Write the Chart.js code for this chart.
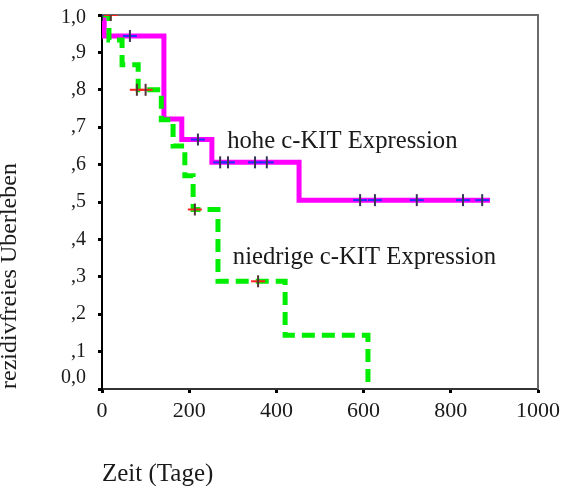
<!DOCTYPE html>
<html>
<head>
<meta charset="utf-8">
<script src="https://cdn.jsdelivr.net/npm/chart.js@4/dist/chart.umd.min.js"></script>
<style>
html, body { margin: 0; padding: 0; background: #ffffff; }
#wrap { width: 561px; height: 486px; }
</style>
</head>
<body>
<div id="wrap"><canvas id="c" width="561" height="486"></canvas></div>
<script>
// ---- data ----
const highTimes = [0, 5, 142, 183, 252, 452, 890];
const highSurv  = [1.0, 0.944, 0.722, 0.667, 0.606, 0.505, 0.505];
const lowTimes  = [0, 16, 46, 83, 136, 163, 190, 209, 266, 420, 610];
const lowSurv   = [1.0, 0.933, 0.867, 0.8, 0.72, 0.65, 0.57, 0.48, 0.288, 0.144, 0.0];
const highCensorTimes = [0, 64, 220, 271, 289, 351, 378, 592, 626, 722, 828, 872];
const highCensorSurv  = [1.0, 0.944, 0.667, 0.606, 0.606, 0.606, 0.606, 0.505, 0.505, 0.505, 0.505, 0.505];
const lowCensorTimes  = [20, 80, 100, 213, 358];
const lowCensorSurv   = [1.0, 0.8, 0.8, 0.48, 0.288];
const xTickLabels = ['0', '200', '400', '600', '800', '1000'];
const yTickLabels = ['0,0', ',1', ',2', ',3', ',4', ',5', ',6', ',7', ',8', ',9', '1,0'];
const seriesNames = ['hohe c-KIT Expression', 'niedrige c-KIT Expression'];
const xTitle = 'Zeit (Tage)';
const yTitle = 'rezidivfreies Überleben';

const pts = (xs, ys) => xs.map((x, i) => ({ x: x, y: ys[i] }));
const FONT = "'Liberation Serif', 'Times New Roman', serif";
const Y_LABEL_PAD = 12;

const decor = {
  id: 'decor',
  beforeDatasetsDraw(chart) {
    const { ctx, chartArea: a } = chart;
    ctx.save();
    ctx.strokeStyle = '#6a6a6a';
    ctx.lineWidth = 2;
    ctx.beginPath();
    ctx.moveTo(a.left, a.top);
    ctx.lineTo(a.right, a.top);
    ctx.lineTo(a.right, a.bottom);
    ctx.stroke();
    ctx.restore();
  },
  afterDraw(chart) {
    const { ctx, scales } = chart;
    const xs = scales.x, ys = scales.y;
    ctx.save();
    ctx.fillStyle = '#1a1a1a';
    ctx.font = '20px ' + FONT;
    ctx.textAlign = 'right';
    ctx.textBaseline = 'middle';
    const lx = ys.right - 4 - Y_LABEL_PAD;
    // end labels of the y axis are nudged inward, as in the reference
    ctx.fillText(yTickLabels[0], lx, ys.getPixelForValue(0) - 11);
    ctx.fillText(yTickLabels[yTickLabels.length - 1], lx, ys.getPixelForValue(1) + 3);
    ctx.font = '24.7px ' + FONT;
    ctx.textAlign = 'left';
    ctx.textBaseline = 'alphabetic';
    ctx.fillText(seriesNames[0], xs.getPixelForValue(287), ys.getPixelForValue(0.644));
    ctx.fillText(seriesNames[1], xs.getPixelForValue(300), ys.getPixelForValue(0.334));
    ctx.restore();
  }
};

new Chart(document.getElementById('c'), {
  type: 'line',
  data: {
    datasets: [
      {
        label: seriesNames[0],
        data: pts(highTimes, highSurv),
        stepped: 'before',
        borderColor: '#ff00ff',
        borderWidth: 5,
        pointRadius: 0,
        fill: false,
        order: 5
      },
      {
        label: seriesNames[1],
        data: pts(lowTimes, lowSurv),
        stepped: 'before',
        borderColor: '#00ee00',
        borderWidth: 5,
        borderDash: [13, 7],
        borderCapStyle: 'butt',
        pointRadius: 0,
        fill: false,
        order: 4
      },
      {
        label: 'zensiert hoch (h)',
        data: pts(highCensorTimes, highCensorSurv),
        showLine: false,
        pointStyle: 'line',
        pointRadius: 7,
        pointBorderWidth: 2,
        pointBorderColor: '#2030ff',
        pointBackgroundColor: '#2030ff',
        order: 3
      },
      {
        label: 'zensiert hoch (v)',
        data: pts(highCensorTimes, highCensorSurv),
        showLine: false,
        pointStyle: 'line',
        pointRotation: 90,
        pointRadius: 6,
        pointBorderWidth: 2,
        pointBorderColor: '#333355',
        pointBackgroundColor: '#333355',
        order: 2
      },
      {
        label: 'zensiert niedrig (h)',
        data: pts(lowCensorTimes, lowCensorSurv),
        showLine: false,
        pointStyle: 'line',
        pointRadius: 7,
        pointBorderWidth: 2,
        pointBorderColor: '#ff2020',
        pointBackgroundColor: '#ff2020',
        order: 1
      },
      {
        label: 'zensiert niedrig (v)',
        data: pts(lowCensorTimes, lowCensorSurv),
        showLine: false,
        pointStyle: 'line',
        pointRotation: 90,
        pointRadius: 6,
        pointBorderWidth: 2,
        pointBorderColor: '#553333',
        pointBackgroundColor: '#553333',
        order: 0
      }
    ]
  },
  options: {
    responsive: false,
    animation: false,
    events: [],
    layout: { padding: { top: 15, right: 23, left: 0, bottom: 0 } },
    plugins: { legend: { display: false }, tooltip: { enabled: false } },
    scales: {
      x: {
        type: 'linear',
        min: 0, max: 1000,
        ticks: {
          stepSize: 200,
          color: '#1a1a1a',
          font: { family: FONT, size: 22 },
          padding: 5,
          maxRotation: 0,
          callback: (v, i) => xTickLabels[i]
        },
        grid: { drawOnChartArea: false, drawTicks: true, tickLength: 4, tickWidth: 3, tickColor: '#000' },
        border: { display: true, color: '#333', width: 2 },
        title: {
          display: true, text: xTitle, align: 'start', color: '#1a1a1a',
          font: { family: FONT, size: 25, lineHeight: 0.92 }, padding: 0
        },
        afterFit(s) { s.height = 97; s.paddingLeft = 0; s.paddingRight = 0; }
      },
      y: {
        type: 'linear',
        min: 0, max: 1,
        ticks: {
          stepSize: 0.1,
          color: '#1a1a1a',
          font: { family: FONT, size: 20 },
          padding: Y_LABEL_PAD,
          callback: (v, i) => ((i === 0 || i === yTickLabels.length - 1) ? '' : yTickLabels[i])
        },
        grid: { drawOnChartArea: false, drawTicks: true, tickLength: 4, tickWidth: 3, tickColor: '#000' },
        border: { display: true, color: '#000', width: 2 },
        title: {
          display: true, text: yTitle, align: 'start', color: '#1a1a1a',
          font: { family: FONT, size: 24, lineHeight: 0.85 }, padding: 0
        },
        afterFit(s) { s.width = 102; s.paddingTop = 0; s.paddingBottom = 0; }
      }
    }
  },
  plugins: [decor]
});
</script>
</body>
</html>
